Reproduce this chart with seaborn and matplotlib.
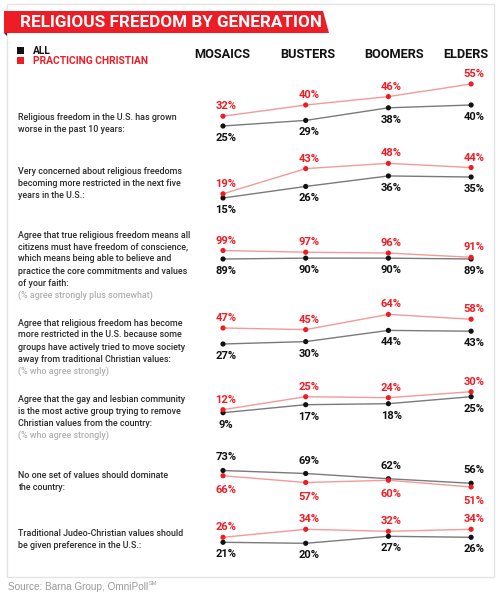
import numpy as np
import pandas as pd
import seaborn as sns
import matplotlib.pyplot as plt
from matplotlib.patches import Polygon, Rectangle

# data
generations = ["MOSAICS", "BUSTERS", "BOOMERS", "ELDERS"]

questions = [
    ["Religious freedom in the U.S. has grown", "worse in the past 10 years:"],
    ["Very concerned about religious freedoms", "becoming more restricted in the next five", "years in the U.S.:"],
    ["Agree that true religious freedom means all", "citizens must have freedom of conscience,",
     "which means being able to believe and", "practice the core commitments and values", "of your faith:"],
    ["Agree that religious freedom has become", "more restricted in the U.S. because some",
     "groups have actively tried to move society", "away from traditional Christian values:"],
    ["Agree that the gay and lesbian community", "is the most active group trying to remove",
     "Christian values from the country:"],
    ["No one set of values should dominate", "the country:"],
    ["Traditional Judeo-Christian values should", "be given preference in the U.S.:"],
]
notes = [None, None, "(% agree strongly plus somewhat)", "(% who agree strongly)",
         "(% who agree strongly)", None, None]

all_vals = [
    [25, 29, 38, 40],
    [15, 26, 36, 35],
    [89, 90, 90, 89],
    [27, 30, 44, 43],
    [9, 17, 18, 25],
    [73, 69, 62, 56],
    [21, 20, 27, 26],
]
christian_vals = [
    [32, 40, 46, 55],
    [19, 43, 48, 44],
    [99, 97, 96, 91],
    [47, 45, 64, 58],
    [12, 25, 24, 30],
    [66, 57, 60, 51],
    [26, 34, 32, 34],
]

# layout (pixels from top of a 500x597 canvas)
W, H = 500, 597
# per panel: value anchor, pixel y of anchor, px per unit, first text line y
panel_scale = [
    (25, 126, 1.4, 118),
    (15, 198, 1.05, 171),
    (89, 259, 0.85, 235),
    (27, 344, 0.8, 323),
    (9, 412.7, 1.0, 399),
    (51, 487, 0.75, 475),
    (20, 543.3, 1.0, 534),
]

RED = "#ee1c24"
RED_LINE = "#f39a9a"
BLACK = "#111111"
BLACK_LINE = "#7a7a7a"
TEXT = "#2b2b2b"
FONT = ["Roboto", "DejaVu Sans"]

sns.set_theme(style="white")
plt.rcParams["font.family"] = FONT

fig = plt.figure(figsize=(W / 100, H / 100), dpi=100)
fig.patch.set_facecolor("white")


def fx(x):
    return x / W


def fy(y):
    return 1 - y / H


# outer frame
fig.add_artist(Rectangle((fx(7), fy(577)), fx(494) - fx(7), fy(4) - fy(577),
                         transform=fig.transFigure, fill=False, edgecolor="#e4e4e4", lw=1))

# title banner
fig.add_artist(Polygon([(fx(4), fy(11)), (fx(323), fy(11)), (fx(329), fy(33)), (fx(4), fy(33))],
                       closed=True, transform=fig.transFigure, facecolor=RED, edgecolor="none"))
fig.add_artist(Polygon([(fx(4), fy(33)), (fx(7), fy(33)), (fx(7), fy(36))],
                       closed=True, transform=fig.transFigure, facecolor="#7a0a0e", edgecolor="none"))
fig.text(fx(20), fy(22.5), "RELIGIOUS FREEDOM BY GENERATION", color="white", fontsize=12.3,
         fontweight="bold", va="center", ha="left")

# legend
fig.add_artist(Rectangle((fx(17), fy(54)), fx(7), 7 / H, transform=fig.transFigure,
                         facecolor=BLACK, edgecolor="none"))
fig.add_artist(Rectangle((fx(17), fy(64)), fx(7), 7 / H, transform=fig.transFigure,
                         facecolor=RED, edgecolor="none"))
fig.text(fx(33), fy(50.5), "ALL", color=BLACK, fontsize=7.4, fontweight="bold", va="center")
fig.text(fx(33), fy(61), "PRACTICING CHRISTIAN", color=RED, fontsize=7.4, fontweight="bold", va="center")

# long table for seaborn
rows = []
for p in range(len(all_vals)):
    for i, g in enumerate(generations):
        rows.append({"panel": p, "gen": i, "group": "All", "value": all_vals[p][i]})
        rows.append({"panel": p, "gen": i, "group": "Practicing Christian", "value": christian_vals[p][i]})
df = pd.DataFrame(rows)

x0_px, x1_px = 200, 494
gen0_px, gen_step = 223, 82.7
xlim = ((x0_px - gen0_px) / gen_step, 3 + (x1_px - (gen0_px + 3 * gen_step)) / gen_step)

# column headers
header_x = [222, 308, 394, 466]
for g, xpx in zip(generations, header_x):
    fig.text(fx(xpx), fy(54), g, color=BLACK, fontsize=9.2, fontweight="bold", ha="center", va="center")

for p, (v0, p0, s, text_y) in enumerate(panel_scale):
    top_px, bot_px = p0 - 60, p0 + 20
    ax = fig.add_axes([fx(x0_px), fy(bot_px), fx(x1_px) - fx(x0_px), (bot_px - top_px) / H])
    ax.set_ylim(v0 - (bot_px - p0) / s, v0 + (p0 - top_px) / s)
    ax.set_xlim(*xlim)
    ax.axis("off")
    ax.patch.set_alpha(0)

    sub = df[df["panel"] == p]
    sns.lineplot(data=sub, x="gen", y="value", hue="group", palette=[BLACK_LINE, RED_LINE],
                 hue_order=["All", "Practicing Christian"], lw=1, legend=False, ax=ax)
    sns.scatterplot(data=sub, x="gen", y="value", hue="group", palette=[BLACK, RED],
                    hue_order=["All", "Practicing Christian"], s=14, edgecolor="none",
                    legend=False, ax=ax, zorder=3)

    red_above = christian_vals[p][0] >= all_vals[p][0]
    for i in range(4):
        ya = all_vals[p][i]
        yc = christian_vals[p][i]
        ax.annotate(f"{ya}%", (i, ya), xytext=(3, 13 if not red_above else -12),
                    textcoords="offset pixels", ha="center", va="center",
                    fontsize=8, fontweight="bold", color=BLACK)
        ax.annotate(f"{yc}%", (i, yc), xytext=(3, -14 if not red_above else 10),
                    textcoords="offset pixels", ha="center", va="center",
                    fontsize=8, fontweight="bold", color=RED)

    lines = questions[p]
    for k, line in enumerate(lines):
        fig.text(fx(18), fy(text_y + 12 * k), line, color=TEXT, fontsize=6.4, fontweight="medium",
                 va="center", ha="left")
    if notes[p]:
        fig.text(fx(18), fy(text_y + 12 * len(lines)), notes[p], color="#b0b0b0",
                 fontsize=6.4, fontweight="medium", va="center", ha="left")

src = fig.text(fx(8), fy(587), "Source: Barna Group, OmniPoll", color="#9a9a9a", fontsize=7.2,
               va="center", ha="left", family=["Liberation Sans", "DejaVu Sans"])
fig.canvas.draw()
bb = src.get_window_extent()
fig.text(bb.x1 / W + 0.002, fy(583.5), "SM", color="#9a9a9a", fontsize=4, va="center", ha="left",
         family=["Liberation Sans", "DejaVu Sans"])

fig.savefig("out.png", dpi=100, facecolor="white")
